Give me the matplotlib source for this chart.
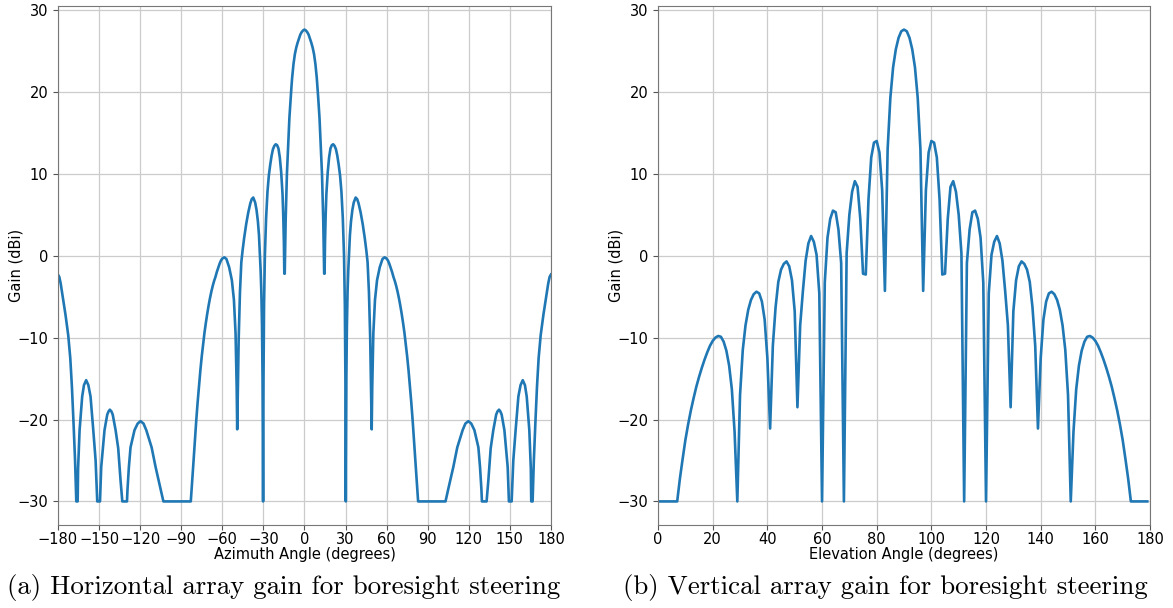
import matplotlib
matplotlib.use("Agg")
import matplotlib.pyplot as plt

# ============================================================
# Horizontal array gain vs azimuth (degrees, dBi)
# ============================================================
az_deg = [
    -180, -179, -178, -176.5, -174.5, -172.5, -171, -169.8, -168.6, -167.5,
    -166.6, -165.6, -165.3, -164.2, -162.3, -161, -159.4, -157.8, -156.2, -154.2,
    -152.5, -151.3, -149.3, -148.4, -146, -144, -143, -142.1, -141, -140,
    -137.9, -136, -134.3, -133, -129.6, -129.2, -128.2, -127, -124.1, -121.8,
    -119.7, -117.5, -115.5, -111.6, -108.7, -105, -103,
    -83, -82, -81, -80, -79, -78, -77, -76, -75, -74,
    -73, -72, -71, -70, -69, -68, -67, -66, -65, -64,
    -63, -62, -61, -60, -58.5, -57,
    -55, -53, -51.5, -50.3, -49.5, -49.1, -48.6, -48, -47.1, -46.1,
    -45.2, -44, -42.5, -41, -39.5, -38.5, -37.4, -36, -35, -34,
    -33.2, -32.5, -32, -31.5, -31, -30.6, -30.2, -29.9, -29.5, -28.9,
    -28, -27, -26, -25, -24, -23, -22, -21, -20, -19,
    -18, -17, -16, -15.5, -15.0, -14.7, -14.4, -14.1, -13.7, -13.3,
    -12.8, -12, -11, -10, -9.5, -9, -8, -7, -6, -5,
    -4, -3, -2, -1, 0,
    1, 2, 3, 4, 5, 6, 7, 8, 9, 9.5,
    10, 11, 12, 12.8, 13.3, 13.7, 14.1, 14.4, 14.7, 15.0,
    15.5, 16, 17, 18, 19, 20, 21, 22, 23, 24,
    25, 26, 27, 28, 28.9, 29.5, 29.9, 30.2, 30.6, 31,
    31.5, 32, 32.5, 33.2, 34, 35, 36, 37.4, 38.5, 39.5,
    41, 42.5, 44, 45.2, 46.1, 47.1, 48, 48.6, 49.1, 49.5,
    50.3, 51.5, 53, 55, 57, 58.5, 60, 61, 62, 63,
    64, 65, 66, 67, 68, 69, 70, 71, 72, 73,
    74, 75, 76, 77, 78, 79, 80, 81, 82, 83,
    103, 105, 108.7, 111.6, 115.5, 117.5, 119.7, 121.8, 124.1, 127,
    128.2, 129.2, 129.6, 133, 134.3, 136, 137.9, 140, 141, 142.1,
    143, 144, 146, 148.4, 149.3, 151.3, 152.5, 154.2, 156.2, 157.8,
    159.4, 161, 162.3, 164.2, 165.3, 165.6, 166.6, 167.5, 168.6, 169.8,
    171, 172.5, 174.5, 176.5, 178, 179, 180,
]
az_gain = [
    -2.3, -2.6, -3.4, -5.0, -7.2, -9.7, -12.5, -16.0, -20.5, -25.0,
    -30.0, -30.0, -26.0, -21.3, -17.2, -15.8, -15.2, -15.8, -17.2, -21.3,
    -25.0, -30.0, -30.0, -25.8, -21.3, -19.4, -19.0, -18.8, -19.0, -19.4,
    -21.3, -23.5, -27.4, -30.0, -30.0, -28.5, -25.8, -23.4, -21.3, -20.5,
    -20.2, -20.5, -21.3, -23.4, -25.8, -28.5, -30.0,
    -30.0, -27.6, -25.1, -22.6, -20.1, -17.9, -15.9, -14.0, -12.3, -10.8,
    -9.4, -8.2, -7.1, -6.1, -5.2, -4.4, -3.7, -3.1, -2.6, -2.0,
    -1.5, -1.0, -0.6, -0.35, -0.2, -0.4,
    -1.4, -3.0, -5.4, -9.5, -16.0, -21.2, -16.0, -10.0, -4.5, -0.8,
    0.6, 2.2, 3.9, 5.3, 6.4, 6.9, 7.1, 6.5, 5.6, 4.2,
    2.5, 0.0, -1.8, -4.3, -8.5, -15.0, -30.0, -15.0, -6.0, 0.0,
    4.6, 7.8, 9.8, 11.1, 12.2, 13.0, 13.4, 13.6, 13.5, 13.1,
    12.0, 10.2, 7.5, 5.0, 1.5, -2.2, -2.2, 1.0, 4.5, 7.0,
    10.0, 13.0, 16.8, 19.4, 20.6, 21.7, 23.4, 24.6, 25.4, 26.0,
    26.5, 27.0, 27.3, 27.5, 27.6,
    27.5, 27.3, 27.0, 26.5, 26.0, 25.4, 24.6, 23.4, 21.7, 20.6,
    19.4, 16.8, 13.0, 10.0, 7.0, 4.5, 1.0, -2.2, -2.2, 1.5,
    5.0, 7.5, 10.2, 12.0, 13.1, 13.5, 13.6, 13.4, 13.0, 12.2,
    11.1, 9.8, 7.8, 4.6, 0.0, -6.0, -15.0, -30.0, -15.0, -8.5,
    -4.3, -1.8, 0.0, 2.5, 4.2, 5.6, 6.5, 7.1, 6.9, 6.4,
    5.3, 3.9, 2.2, 0.6, -0.8, -4.5, -10.0, -16.0, -21.2, -16.0,
    -9.5, -5.4, -3.0, -1.4, -0.4, -0.2, -0.35, -0.6, -1.0, -1.5,
    -2.0, -2.6, -3.1, -3.7, -4.4, -5.2, -6.1, -7.1, -8.2, -9.4,
    -10.8, -12.3, -14.0, -15.9, -17.9, -20.1, -22.6, -25.1, -27.6, -30.0,
    -30.0, -28.5, -25.8, -23.4, -21.3, -20.5, -20.2, -20.5, -21.3, -23.4,
    -25.8, -28.5, -30.0, -30.0, -27.4, -23.5, -21.3, -19.4, -19.0, -18.8,
    -19.0, -19.4, -21.3, -25.8, -30.0, -30.0, -25.0, -21.3, -17.2, -15.8,
    -15.2, -15.8, -17.2, -21.3, -26.0, -30.0, -30.0, -25.0, -20.5, -16.0,
    -12.5, -9.7, -7.2, -5.0, -3.4, -2.6, -2.3,
]

# ============================================================
# Vertical array gain vs elevation, 1 degree steps from 0 to 179
# ============================================================
el_deg = list(range(0, 180))
el_gain = [
    -30.0, -30.0, -30.0, -30.0, -30.0, -30.0, -30.0, -30.0, -27.2, -24.8,
    -22.5, -20.6, -18.9, -17.4, -16.0, -14.8, -13.7, -12.7, -11.8, -11.0,
    -10.4, -10.0, -9.8, -9.9, -10.5, -11.6, -13.4, -16.3, -21.5, -30.0,
    -17.0, -11.5, -8.5, -6.6, -5.4, -4.7, -4.4, -4.6, -5.6, -7.8,
    -12.5, -21.1, -11.0, -6.3, -3.2, -1.7, -1.0, -0.7, -1.3, -3.0,
    -6.8, -18.5, -8.5, -4.3, -0.6, 1.5, 2.4, 1.7, 0.1, -4.6,
    -30.0, -3.3, 2.2, 4.5, 5.5, 5.3, 3.2, -0.9, -30.0, 0.3,
    5.0, 7.8, 9.1, 8.4, 4.5, -2.2, -2.3, 6.9, 12.0, 13.8,
    14.0, 12.6, 8.0, -4.3, 13.0, 19.3, 23.0, 25.2, 26.6, 27.4,
    27.6, 27.4, 26.6, 25.2, 23.0, 19.3, 13.0, -4.3, 8.0, 12.6,
    14.0, 13.8, 12.0, 6.9, -2.3, -2.2, 4.5, 8.4, 9.1, 7.8,
    5.0, 0.3, -30.0, -0.9, 3.2, 5.3, 5.5, 4.5, 2.2, -3.3,
    -30.0, -4.6, 0.1, 1.7, 2.4, 1.5, -0.6, -4.3, -8.5, -18.5,
    -6.8, -3.0, -1.3, -0.7, -1.0, -1.7, -3.2, -6.3, -11.0, -21.1,
    -12.5, -7.8, -5.6, -4.6, -4.4, -4.7, -5.4, -6.6, -8.5, -11.5,
    -17.0, -30.0, -21.5, -16.3, -13.4, -11.6, -10.5, -9.9, -9.8, -10.0,
    -10.4, -11.0, -11.8, -12.7, -13.7, -14.8, -16.0, -17.4, -18.9, -20.6,
    -22.5, -24.8, -27.2, -30.0, -30.0, -30.0, -30.0, -30.0, -30.0, -30.0,
]

az_ticks = list(range(-180, 181, 30))
el_ticks = list(range(0, 181, 20))
gain_ticks = list(range(-30, 31, 10))

captions = [
    "(a) Horizontal array gain for boresight steering",
    "(b) Vertical array gain for boresight steering",
]

# ============================================================
# 绘图
# ============================================================
fig = plt.figure(figsize=(11.73, 6.08), dpi=100)
ax_h = fig.add_axes([0.0494, 0.1365, 0.4203, 0.8536])
ax_v = fig.add_axes([0.5610, 0.1365, 0.4194, 0.8536])

panels = [
    (ax_h, az_deg, az_gain, (-180, 180), az_ticks, "Azimuth Angle (degrees)"),
    (ax_v, el_deg, el_gain, (0, 180), el_ticks, "Elevation Angle (degrees)"),
]

for ax, x, y, xlim, xticks, xlabel in panels:
    ax.plot(x, y, color="#1f77b4", linewidth=1.9)
    ax.set_xlim(*xlim)
    ax.set_xticks(xticks)
    ax.set_yticks(gain_ticks)
    ax.grid(True, color="#cccccc", linewidth=0.9)
    ax.set_axisbelow(True)
    ax.tick_params(labelsize=10.5, color="#555555", length=3.5)
    ax.tick_params(axis="x", pad=1.5)
    ax.set_xlabel(xlabel, fontsize=10.5, labelpad=0)
    ax.set_ylabel("Gain (dBi)", fontsize=10.5, labelpad=-4.5)
    for sp in ax.spines.values():
        sp.set_color("#777777")

fig.text(0.242, 0.033, captions[0], ha="center", va="center",
         family="cmr10", fontsize=19.4)
fig.text(0.755, 0.033, captions[1], ha="center", va="center",
         family="cmr10", fontsize=19.4)

fig.savefig("out.png", dpi=100)
plt.close(fig)
